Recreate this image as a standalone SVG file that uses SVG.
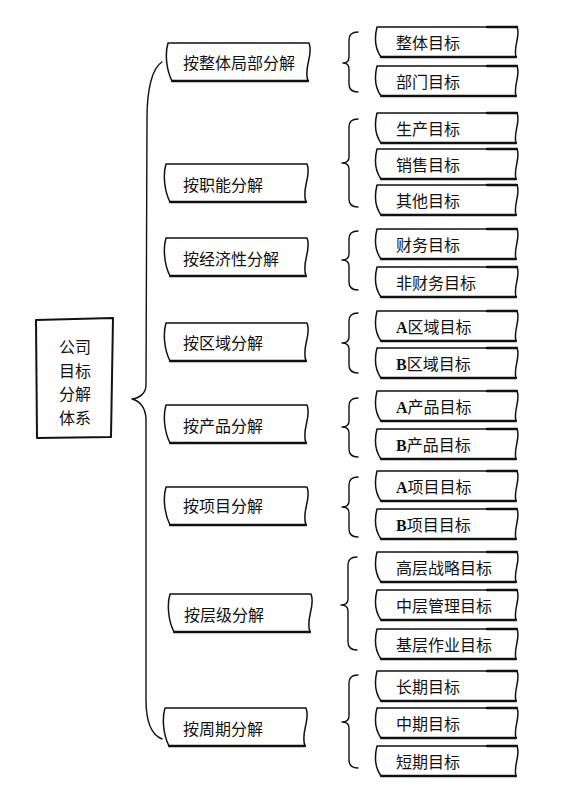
<svg xmlns="http://www.w3.org/2000/svg" xmlns:xlink="http://www.w3.org/1999/xlink" width="562" height="806" viewBox="0 0 562 806">
<style>
.bg{fill:#fff}
.shape{fill:#fff;stroke:#111;stroke-width:1.5;stroke-linejoin:round}
.thick{fill:none;stroke:#111;stroke-width:2.3;stroke-linecap:round}
.line{fill:none;stroke:#111;stroke-width:1.4;stroke-linecap:round;stroke-linejoin:round}
.t{font-family:"Noto Sans CJK SC","Noto Sans",sans-serif;font-size:16px;fill:#111}
.lat{font-family:"Liberation Serif",serif;font-weight:bold}
</style>
<defs>
<g id="leafShape">
<path class="shape" d="M0,0 H140 C144,8 136,20 139,30 H4 C-3,20 -2,8 0,0 Z"/>
<path class="thick" d="M4,30 H139"/>
<path class="thick" d="M110,0 H140"/>
</g>
<g id="headShape">
<path class="shape" d="M0,0 H141 C146,12 135,24 140,38 H4 C-2,26 -3,10 0,0 Z"/>
<path class="thick" d="M4,38 H140"/>
</g>
</defs>
<rect class="bg" x="0" y="0" width="562" height="806"/>

<g id="connectors">
<path class="line" d="M162,62 C152,68 147,90 147,118 L146,385 C146,393 140,398 132,399 C140,401 146,408 146,420 L146,700 C146,722 152,735 162,739"/>
<path class="line" d="M358,32 Q349,32 349,40 L349,57 Q349,63 343,63 Q349,63 349,69 L349,84 Q349,92 358,92"/>
<path class="line" d="M358,119 Q349,119 349,127 L349,157 Q349,163 342,163 Q349,163 349,169 L349,199 Q349,207 358,207"/>
<path class="line" d="M358,231 Q349,231 349,239 L349,254 Q349,260 342,260 Q349,260 349,266 L349,282 Q349,290 358,290"/>
<path class="line" d="M358,313 Q349,313 349,321 L349,337 Q349,343 342,343 Q349,343 349,349 L349,365 Q349,373 358,373"/>
<path class="line" d="M358,398 Q349,398 349,406 L349,421 Q349,427 342,427 Q349,427 349,433 L349,449 Q349,457 358,457"/>
<path class="line" d="M358,477 Q349,477 349,485 L349,501 Q349,507 342,507 Q349,507 349,513 L349,529 Q349,537 358,537"/>
<path class="line" d="M357,557 Q348,557 348,565 L348,599 Q348,605 341,605 Q348,605 348,611 L348,642 Q348,650 357,650"/>
<path class="line" d="M358,675 Q349,675 349,683 L349,716 Q349,722 342,722 Q349,722 349,728 L349,760 Q349,768 358,768"/>
</g>

<g id="root">
<path class="shape" style="stroke-width:2" d="M36,320 L113,318 L111,437 L37,438 Z"/>
<text class="t" x="75" y="353" text-anchor="middle">公司</text>
<text class="t" x="75" y="376.5" text-anchor="middle">目标</text>
<text class="t" x="75" y="400" text-anchor="middle">分解</text>
<text class="t" x="75" y="423.5" text-anchor="middle">体系</text>
</g>

<g id="h-zhengti"><use xlink:href="#headShape" x="168" y="43"/><text class="t" x="183" y="69">按整体局部分解</text></g>
<g id="h-zhineng"><use xlink:href="#headShape" x="166" y="164"/><text class="t" x="183" y="191">按职能分解</text></g>
<g id="h-jingji"><use xlink:href="#headShape" x="166" y="238"/><text class="t" x="183" y="265">按经济性分解</text></g>
<g id="h-quyu"><use xlink:href="#headShape" x="166" y="323"/><text class="t" x="183" y="349">按区域分解</text></g>
<g id="h-chanpin"><use xlink:href="#headShape" x="166" y="405"/><text class="t" x="183" y="432">按产品分解</text></g>
<g id="h-xiangmu"><use xlink:href="#headShape" x="166" y="487"/><text class="t" x="183" y="512">按项目分解</text></g>
<g id="h-cengji"><use xlink:href="#headShape" x="170" y="594"/><text class="t" x="184" y="621">按层级分解</text></g>
<g id="h-zhouqi"><use xlink:href="#headShape" x="165" y="708"/><text class="t" x="183" y="735">按周期分解</text></g>

<g id="l-zhengti"><use xlink:href="#leafShape" x="377" y="27"/><text class="t" x="396" y="48.5">整体目标</text></g>
<g id="l-bumen"><use xlink:href="#leafShape" x="377" y="66"/><text class="t" x="396" y="87.5">部门目标</text></g>
<g id="l-shengchan"><use xlink:href="#leafShape" x="377" y="113"/><text class="t" x="396" y="134.5">生产目标</text></g>
<g id="l-xiaoshou"><use xlink:href="#leafShape" x="377" y="149"/><text class="t" x="396" y="170.5">销售目标</text></g>
<g id="l-qita"><use xlink:href="#leafShape" x="377" y="185"/><text class="t" x="396" y="206.5">其他目标</text></g>
<g id="l-caiwu"><use xlink:href="#leafShape" x="377" y="229"/><text class="t" x="396" y="250.5">财务目标</text></g>
<g id="l-feicaiwu"><use xlink:href="#leafShape" x="377" y="267"/><text class="t" x="396" y="288.5">非财务目标</text></g>
<g id="l-aquyu"><use xlink:href="#leafShape" x="377" y="311"/><text class="t" x="396" y="332.5"><tspan class="lat">A</tspan>区域目标</text></g>
<g id="l-bquyu"><use xlink:href="#leafShape" x="377" y="348"/><text class="t" x="396" y="369.5"><tspan class="lat">B</tspan>区域目标</text></g>
<g id="l-achanpin"><use xlink:href="#leafShape" x="377" y="391"/><text class="t" x="396" y="412.5"><tspan class="lat">A</tspan>产品目标</text></g>
<g id="l-bchanpin"><use xlink:href="#leafShape" x="377" y="429"/><text class="t" x="396" y="450.5"><tspan class="lat">B</tspan>产品目标</text></g>
<g id="l-axiangmu"><use xlink:href="#leafShape" x="377" y="471"/><text class="t" x="396" y="492.5"><tspan class="lat">A</tspan>项目目标</text></g>
<g id="l-bxiangmu"><use xlink:href="#leafShape" x="377" y="509"/><text class="t" x="396" y="530.5"><tspan class="lat">B</tspan>项目目标</text></g>
<g id="l-gaoceng"><use xlink:href="#leafShape" x="377" y="552"/><text class="t" x="396" y="573.5">高层战略目标</text></g>
<g id="l-zhongceng"><use xlink:href="#leafShape" x="377" y="590"/><text class="t" x="396" y="611.5">中层管理目标</text></g>
<g id="l-jiceng"><use xlink:href="#leafShape" x="377" y="629"/><text class="t" x="396" y="650.5">基层作业目标</text></g>
<g id="l-changqi"><use xlink:href="#leafShape" x="377" y="671"/><text class="t" x="396" y="692.5">长期目标</text></g>
<g id="l-zhongqi"><use xlink:href="#leafShape" x="377" y="708"/><text class="t" x="396" y="729.5">中期目标</text></g>
<g id="l-duanqi"><use xlink:href="#leafShape" x="377" y="746"/><text class="t" x="396" y="767.5">短期目标</text></g>
</svg>
